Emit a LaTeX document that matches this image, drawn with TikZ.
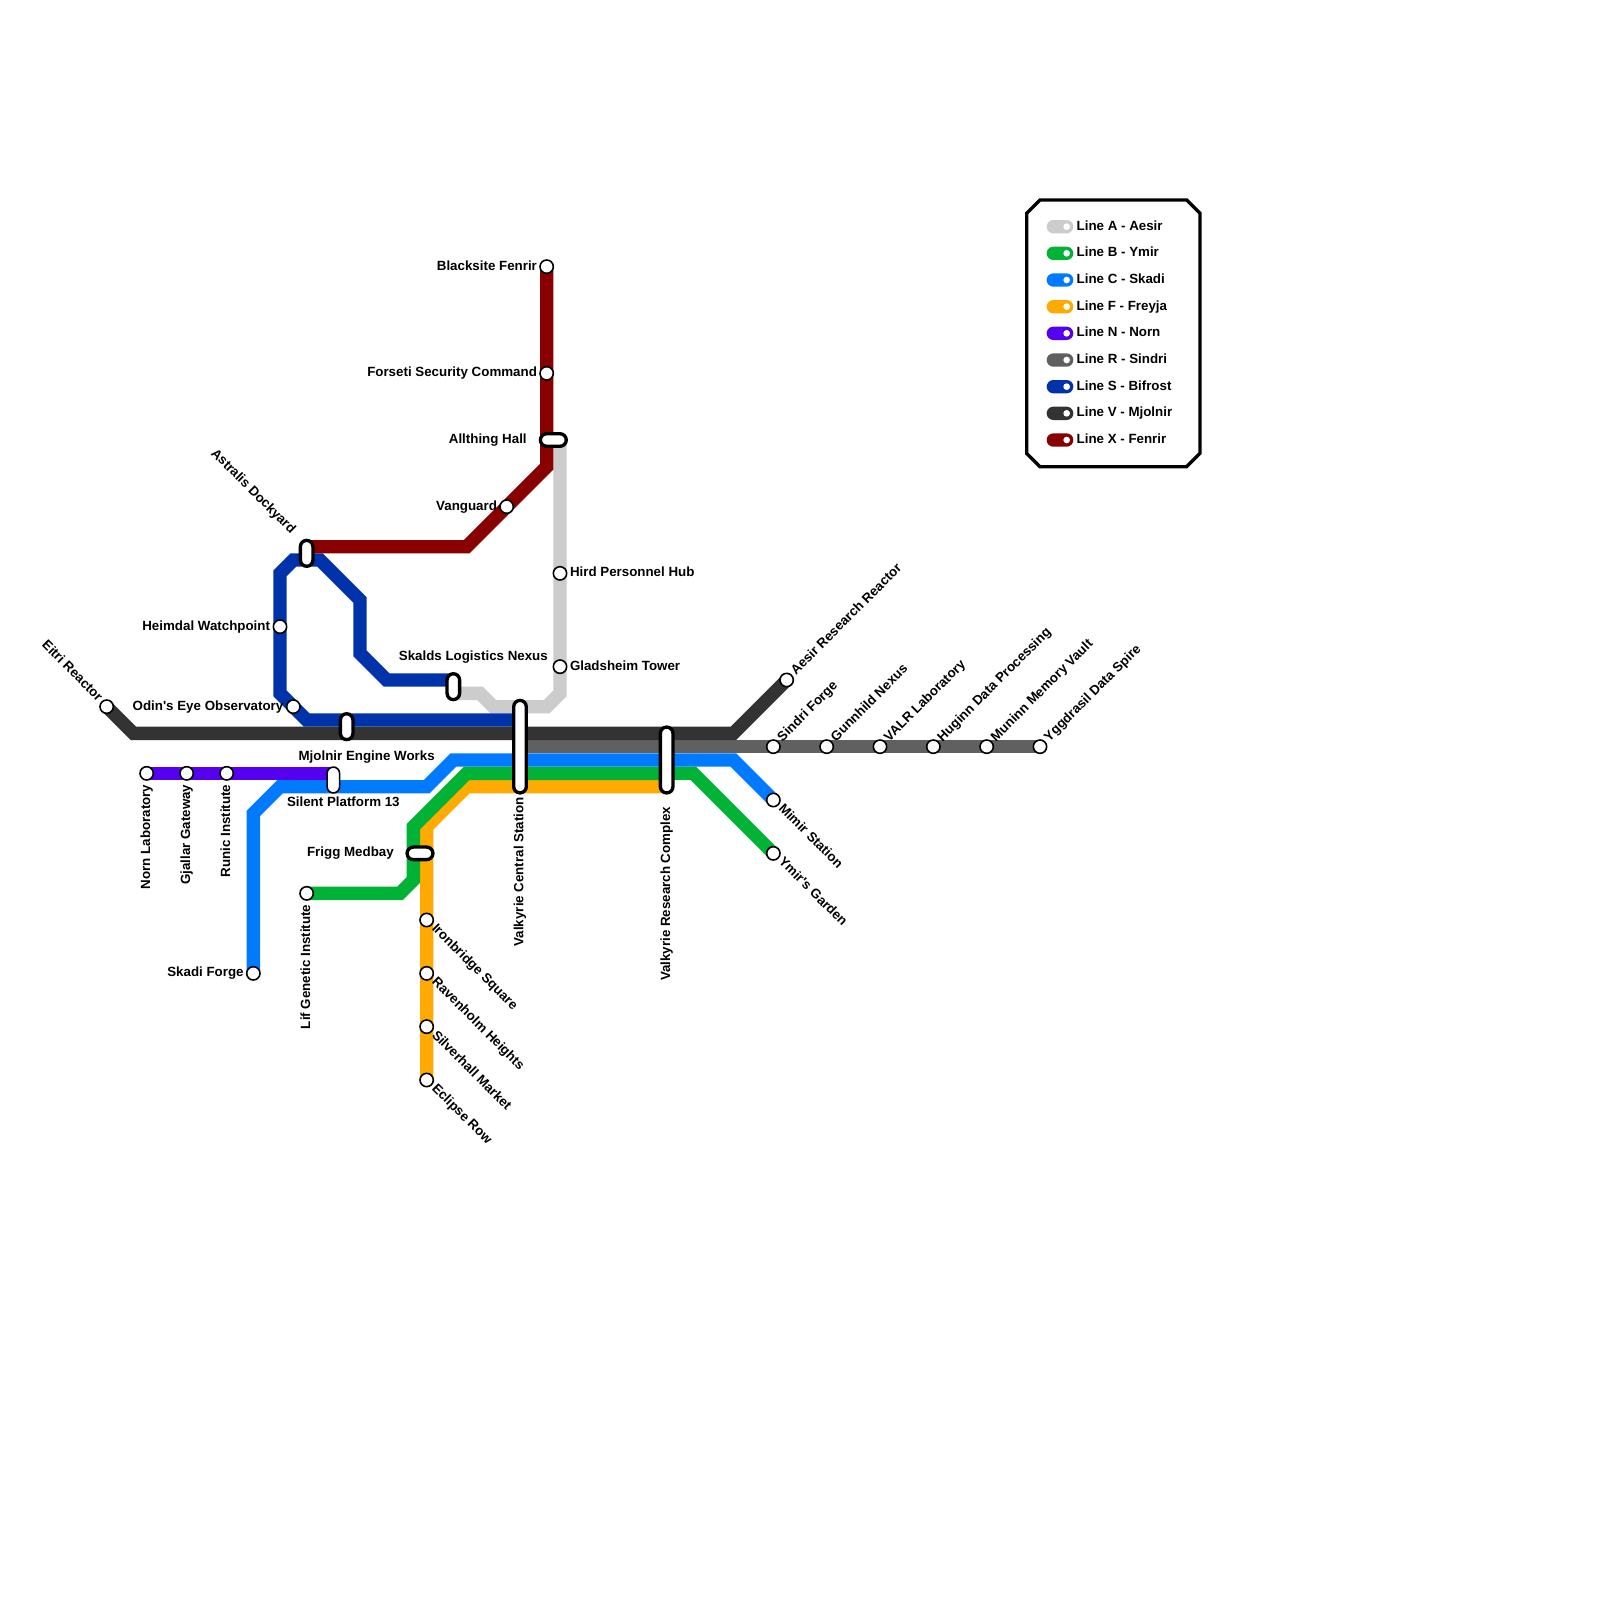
\documentclass[tikz,border=0pt]{standalone}
\usepackage{fontspec}
\setmainfont{Liberation Sans}[Ligatures=TeXOff]
\definecolor{lineA}{HTML}{CCCCCC}
\definecolor{lineB}{HTML}{00B336}
\definecolor{lineC}{HTML}{007AFF}
\definecolor{lineF}{HTML}{FFAA00}
\definecolor{lineN}{HTML}{5500EE}
\definecolor{lineR}{HTML}{606060}
\definecolor{lineS}{HTML}{0033AA}
\definecolor{lineV}{HTML}{333333}
\definecolor{lineX}{HTML}{880000}
\tikzset{
  metro/.style={line width=10pt,line cap=butt,line join=miter,miter limit=10},
  station/.style={circle,draw=black,fill=white,line width=1.2pt,inner sep=0pt,minimum size=10pt},
  capsule/.style={rectangle,draw=black,fill=white,line width=2.5pt,inner sep=0pt,rounded corners=4.7pt},
  capsulethin/.style={capsule,line width=1.2pt},
  lbl/.style={font=\fontsize{10pt}{11pt}\bfseries,inner sep=0pt,outer sep=0pt,text=black},
  lleft/.style={lbl,anchor=base east},
  lright/.style={lbl,anchor=base west},
  lup/.style={lbl,anchor=base east,rotate=90},
  lne/.style={lbl,anchor=base west,rotate=45},
  lse/.style={lbl,anchor=base west,rotate=-45},
  lnw/.style={lbl,anchor=base east,rotate=-45},
  pill/.style={rectangle,inner sep=0pt,minimum width=20pt,minimum height=10pt,rounded corners=5pt},
  pilldot/.style={circle,fill=white,inner sep=0pt,minimum size=5pt},
  legendbox/.style={draw=black,fill=white,line width=2.5pt,line join=miter}
}
\begin{document}
\begin{tikzpicture}[x=10pt,y=-10pt]
\useasboundingbox (0,0) rectangle (120,120);
\fill[white] (0,0) rectangle (120,120);
% station positions
\foreach \n/\x/\y in {eitri/8/53,aesirr/59/51,norn/11/58,gjallar/14/58,runic/17/58,
  skadi/19/73,mimir/58/60,lif/23/67,ymir/58/64,eclipse/32/81,silverhall/32/77,ravenholm/32/73,ironbridge/32/69,
  sindri/58/56,gunnhild/62/56,valr/66/56,huginn/70/56,muninn/74/56,yggdrasil/78/56,
  heimdal/21/47,odin/22/53,blacksite/41/20,forseti/41/28,vanguard/38/38,hird/42/43,gladsheim/42/50,
  astralisA/23/41,astralisB/23/42,mjolA/26/54,mjolB/26/55,skaldsA/34/51,skaldsB/34/52,
  allA/41/33,allB/42/33,silentA/25/58,silentB/25/59,friggA/31/64,friggB/32/64,
  vcsA/39/53,vcsB/39/54,vcsR/39/56,vrcF/50/59}
  {\coordinate (\n) at (\x,\y);}
% lines
\draw[metro,lineA] (allB) -- (gladsheim) -- (42,52) -- (41,53) -- (37,53) -- (36,52) -- (skaldsB);
\draw[metro,lineF] (eclipse) -- (32,62) -- (35,59) -- (vrcF);
\draw[metro,lineB] (lif) -- (30,67) -- (31,66) -- (31,62) -- (35,58) -- (52,58) -- (ymir);
\draw[metro,lineC] (skadi) -- (19,61) -- (21,59) -- (32,59) -- (34,57) -- (55,57) -- (mimir);
\draw[metro,lineN] (norn) -- (silentA);
\draw[metro,lineR] (vcsR) -- (yggdrasil);
\draw[metro,lineS] (skaldsA) -- (29,51) -- (27,49) -- (27,45) -- (24,42) -- (22,42) -- (21,43) -- (21,52) -- (23,54) -- (vcsB);
\draw[metro,lineV] (eitri) -- (10,55) -- (55,55) -- (aesirr);
\draw[metro,lineX] (blacksite) -- (41,35) -- (35,41) -- (astralisA);
% stations
\foreach \n in {eitri,aesirr,norn,gjallar,runic,skadi,mimir,lif,ymir,eclipse,silverhall,ravenholm,ironbridge,
  sindri,gunnhild,valr,huginn,muninn,yggdrasil,heimdal,odin,blacksite,forseti,vanguard,hird,gladsheim}
  {\node[station] (st\n) at (\n) {};}
% interchange capsules
\node[capsule,minimum width=9.4pt,minimum height=19.4pt] (capAstralis) at (23,41.5) {};
\node[capsule,minimum width=9.4pt,minimum height=19.4pt] (capMjolnir) at (26,54.5) {};
\node[capsule,minimum width=9.4pt,minimum height=19.4pt] (capSkalds) at (34,51.5) {};
\node[capsule,minimum width=19.4pt,minimum height=9.4pt] (capAllthing) at (41.5,33) {};
\node[capsulethin,minimum width=9.4pt,minimum height=19.4pt] (capSilent) at (25,58.5) {};
\node[capsule,minimum width=19.4pt,minimum height=9.4pt] (capFrigg) at (31.5,64) {};
\node[capsule,minimum width=9.4pt,minimum height=69.4pt] (capVCS) at (39,56) {};
\node[capsule,minimum width=9.4pt,minimum height=49.4pt] (capVRC) at (50,57) {};
% left labels
\node[lleft] (tBlacksite) at (40.27,20.25) {Blacksite Fenrir};
\node[lleft] (tForseti) at (40.27,28.25) {Forseti Security Command};
\node[lleft] (tVanguard) at (37.27,38.25) {Vanguard};
\node[lleft] (tHeimdal) at (20.25,47.25) {Heimdal Watchpoint};
\node[lleft] (tOdin) at (21.25,53.25) {Odin's Eye Observatory};
\node[lleft] (tSkadi) at (18.27,73.25) {Skadi Forge};
\node[lleft] (tAllthing) at (39.5,33.25) {Allthing Hall};
\node[lleft] (tFrigg) at (29.53,64.25) {Frigg Medbay};
% right labels
\node[lright] (tHird) at (42.75,43.25) {Hird Personnel Hub};
\node[lright] (tGladsheim) at (42.75,50.25) {Gladsheim Tower};
% centred-above labels
\node[lbl,anchor=base] (tSkalds) at (35.5,49.5) {Skalds Logistics Nexus};
\node[lbl,anchor=base] (tMjolnir) at (27.5,57) {Mjolnir Engine Works};
\node[lbl,anchor=base] (tSilent) at (25.75,60.5) {Silent Platform 13};
% vertical labels
\node[lup] (tNorn) at (11.25,58.85) {Norn Laboratory};
\node[lup] (tGjallar) at (14.25,58.85) {Gjallar Gateway};
\node[lup] (tRunic) at (17.25,58.85) {Runic Institute};
\node[lup] (tLif) at (23.25,67.85) {Lif Genetic Institute};
\node[lup] (tVCS) at (39.25,59.8) {Valkyrie Central Station};
\node[lup] (tVRC) at (50.25,60.5) {Valkyrie Research Complex};
% north-east labels
\node[lne] (tAesir) at (59.7,50.65) {Aesir Research Reactor};
\node[lne] (tSindri) at (58.7,55.65) {Sindri Forge};
\node[lne] (tGunnhild) at (62.7,55.65) {Gunnhild Nexus};
\node[lne] (tValr) at (66.7,55.65) {VALR Laboratory};
\node[lne] (tHuginn) at (70.7,55.65) {Huginn Data Processing};
\node[lne] (tMuninn) at (74.7,55.65) {Muninn Memory Vault};
\node[lne] (tYggdrasil) at (78.7,55.65) {Yggdrasil Data Spire};
% south-east labels
\node[lse] (tMimir) at (58.35,60.7) {Mimir Station};
\node[lse] (tYmir) at (58.35,64.7) {Ymir's Garden};
\node[lse] (tIronbridge) at (32.35,69.7) {Ironbridge Square};
\node[lse] (tRavenholm) at (32.35,73.7) {Ravenholm Heights};
\node[lse] (tSilverhall) at (32.35,77.7) {Silverhall Market};
\node[lse] (tEclipse) at (32.35,81.7) {Eclipse Row};
% north-west labels
\node[lnw] (tEitri) at (7.3,52.65) {Eitri Reactor};
\node[lnw] (tAstralis) at (21.8,40.07) {Astralis Dockyard};
% legend
\draw[legendbox] (78,15) -- (89,15) -- (90,16) -- (90,34) -- (89,35) -- (78,35) -- (77,34) -- (77,16) -- cycle;
\foreach \y/\c/\t/\k in {17/lineA/Line A - Aesir/A,19/lineB/Line B - Ymir/B,21/lineC/Line C - Skadi/C,
  23/lineF/Line F - Freyja/F,25/lineN/Line N - Norn/N,27/lineR/Line R - Sindri/R,
  29/lineS/Line S - Bifrost/S,31/lineV/Line V - Mjolnir/V,33/lineX/Line X - Fenrir/X}{
  \node[pill,fill=\c] (pill\k) at (79.5,\y) {};
  \node[pilldot] (dot\k) at (80,\y) {};
  \node[lright] (leg\k) at (80.75,\y+.25) {\t};
}
\end{tikzpicture}
\end{document}
